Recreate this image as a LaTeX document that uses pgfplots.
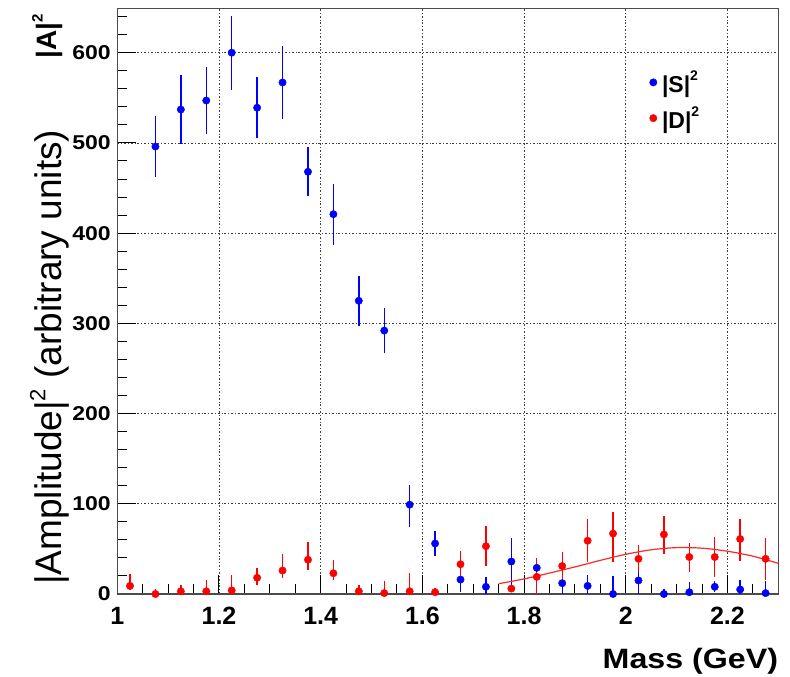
\documentclass[border=0pt]{standalone}
\usepackage{pgfplots}
\pgfplotsset{compat=1.18}
\usepackage{pgfplotstable}
\usepackage{fontspec}
\setmainfont{Liberation Sans}
\newfontfamily\widefont[FakeStretch=1.15]{Liberation Sans}

\pgfplotstableread{
x y ep em
1.075 496 34 34
1.125 537 38 38
1.175 547 37 37
1.225 600 41 41
1.275 539 34 34
1.325 567 40 40
1.375 468 27 27
1.425 421 34 34
1.475 325 28 28
1.525 292 25 25
1.575 99 22 25
1.625 56 14 14
1.675 16 14 14
1.725 8 11 8
1.775 36 26 26
1.825 29 10 10
1.875 12 12 12
1.925 9 12 9
1.975 0 20 0
2.025 15 16 15
2.075 0 6 0
2.125 2 11 2
2.175 8 6 6
2.225 5 11 5
2.275 1 13 1
}\sdata

\pgfplotstableread{
x y ep em
1.025 9 13 5
1.075 0 6 0
1.125 3 7 3
1.175 3 12 3
1.225 4 17 4
1.275 18 11 8
1.325 26 18 8
1.375 38 20 11
1.425 23 15 8
1.475 3 7 3
1.525 1 13 1
1.575 3 20 3
1.625 2 5 2
1.675 33 15 15
1.725 53 22 22
1.775 6 4 4
1.825 19 21 19
1.875 31 16 16
1.925 59 24 24
1.975 67 24 32
2.025 39 15 15
2.075 66 21 22
2.125 41 15 17
2.175 41 22 22
2.225 61 22 24
2.275 39 23 23
}\ddata

\pgfplotstableread{
x y
1.75 11.4
1.80 16.7
1.85 23.2
1.90 30.0
1.95 37.3
2.00 44.0
2.05 49.0
2.10 51.4
2.15 50.8
2.20 47.4
2.25 41.9
2.30 34.0
}\fitdata

\begin{document}
\begin{tikzpicture}
\path[use as bounding box] (-117.3pt,-83pt) rectangle (672.7pt,594pt);
\begin{axis}[
  at={(0pt,0pt)}, anchor=south west,
  scale only axis, width=661pt, height=585.5pt,
  xmin=1, xmax=2.3, ymin=0, ymax=649,
  clip=false,
  xtick={1,1.2,1.4,1.6,1.8,2,2.2},
  ytick={0,100,200,300,400,500,600},
  minor xtick={1.05,1.1,1.15,1.25,1.3,1.35,1.45,1.5,1.55,1.65,1.7,1.75,1.85,1.9,1.95,2.05,2.1,2.15,2.25},
  minor ytick={20,40,60,80,120,140,160,180,220,240,260,280,320,340,360,380,420,440,460,480,520,540,560,580,620,640},
  tick align=inside, tick pos=left,
  major tick length=19pt, minor tick length=10pt,
  every tick/.style={black, line width=1pt},
  grid=major,
  major grid style={black!75, line width=0.8pt, dash pattern=on 2pt off 2pt on 0.7pt off 2pt},
  axis line style={black!70, line width=1.4pt},
  /pgf/number format/assume math mode=true,
  xticklabel style={font=\bfseries\fontsize{25}{25}\selectfont, yshift=-10pt},
  yticklabel style={font=\widefont\bfseries\fontsize{20}{20}\selectfont, xshift=-3pt},
  xlabel={Mass (GeV)},
  xlabel style={at={(axis description cs:1,0)}, anchor=north east, inner sep=0pt, yshift=-54pt,
    font=\widefont\bfseries\fontsize{28}{28}\selectfont},
  legend style={draw=none, fill=none, at={(axis description cs:0.805,0.897)}, anchor=north west,
    font=\bfseries\fontsize{23}{23}\selectfont, row sep=9pt, column sep=3pt, inner sep=0pt},
  legend cell align=left,
  legend image code/.code={\draw[#1] plot coordinates {(0cm,0cm)};},
]
\addplot[only marks, mark=*, mark size=3.7pt, color=blue, mark options={fill=blue, draw=blue},
  error bars/.cd, y dir=both, y explicit, error mark=none,
  error bar style={line width=1.4pt, draw=blue, color=blue}]
  table[x=x, y=y, y error plus=ep, y error minus=em] {\sdata};
\addlegendentry{|S|\raisebox{0.5em}{\fontsize{14}{14}\selectfont 2}}
\addplot[only marks, mark=*, mark size=3.7pt, color=red, mark options={fill=red, draw=red},
  error bars/.cd, y dir=both, y explicit, error mark=none,
  error bar style={line width=1.4pt, draw=red, color=red}]
  table[x=x, y=y, y error plus=ep, y error minus=em] {\ddata};
\addlegendentry{|D|\raisebox{0.5em}{\fontsize{14}{14}\selectfont 2}}
\addplot[red!85, line width=1.2pt, smooth, no marks, forget plot] table[x=x, y=y] {\fitdata};
\end{axis}
\node[rotate=90, anchor=base west, inner sep=0pt, font=\fontsize{37}{37}\selectfont]
  at (-55.3pt, 9pt) {|Amplitude|\raisebox{0.45em}{\fontsize{22}{22}\selectfont 2} (arbitrary units)};
\node[rotate=90, anchor=base west, inner sep=0pt, font=\bfseries\fontsize{28}{28}\selectfont]
  at (-60.6pt, 535pt) {|A|\raisebox{0.5em}{\fontsize{15}{15}\selectfont 2}};
\end{tikzpicture}
\end{document}
